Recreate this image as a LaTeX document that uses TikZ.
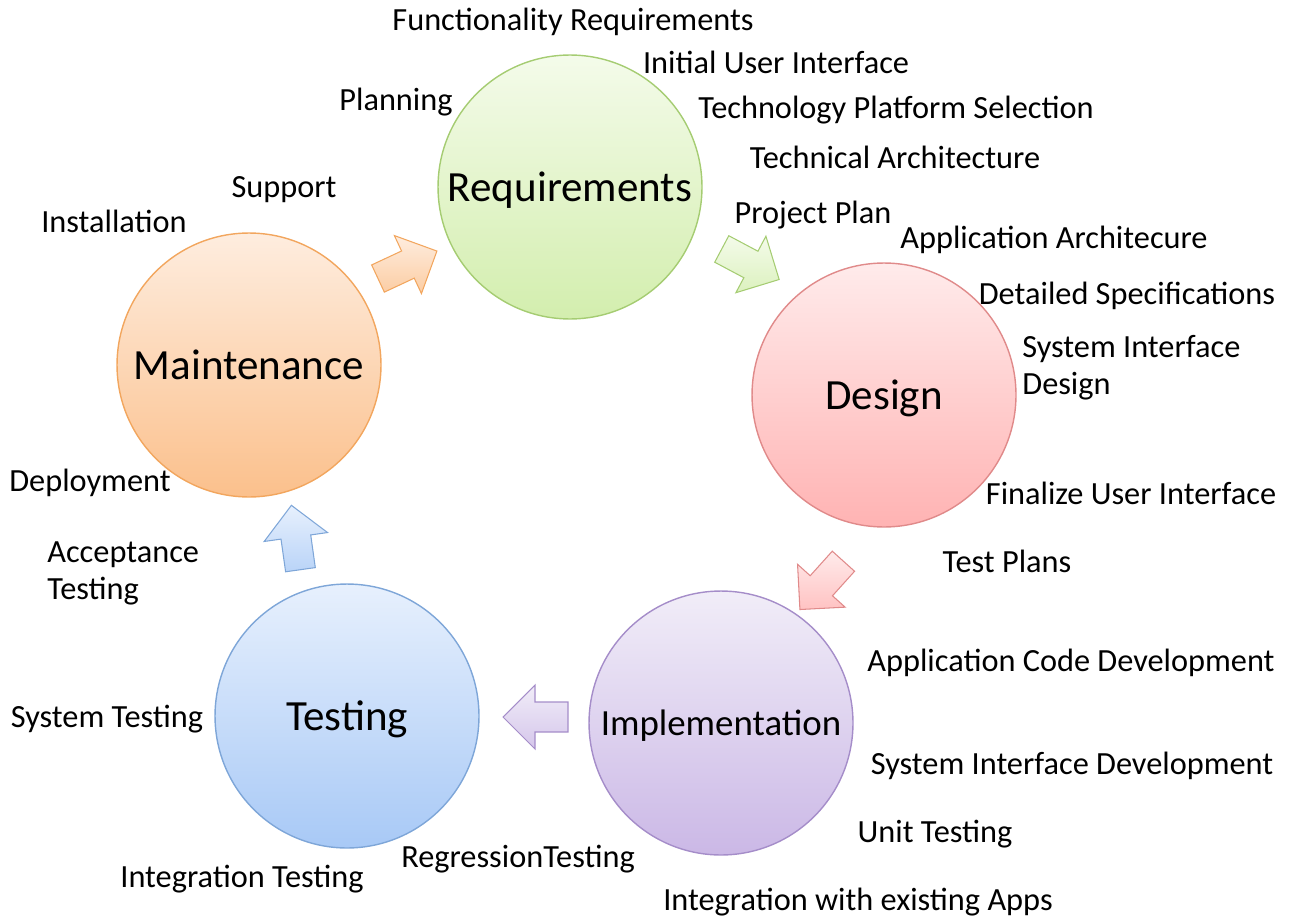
\documentclass[tikz,border=0pt]{standalone}
\usepackage{fontspec}
\setmainfont{Carlito}

\definecolor{reqtop}{HTML}{F4FBEA}
\definecolor{reqbot}{HTML}{D3EEAE}
\definecolor{reqline}{HTML}{A5CC72}
\definecolor{destop}{HTML}{FFEBEB}
\definecolor{desbot}{HTML}{FFB3B3}
\definecolor{desline}{HTML}{E08A8A}
\definecolor{maitop}{HTML}{FEEDDF}
\definecolor{maibot}{HTML}{FBC08C}
\definecolor{mailine}{HTML}{F2A65E}
\definecolor{testop}{HTML}{E7F0FD}
\definecolor{tesbot}{HTML}{A8C9F6}
\definecolor{tesline}{HTML}{7EA6D8}
\definecolor{imptop}{HTML}{F1EDF8}
\definecolor{impbot}{HTML}{CBB8E6}
\definecolor{impline}{HTML}{A58DC9}

\tikzset{
    stage/.style={circle, minimum size=5.28cm, inner sep=0pt, line width=0.8pt,
        font=\fontsize{24.5}{29}\selectfont, text height=19pt, text depth=2.4pt},
    note/.style={font=\fontsize{18.4}{22}\selectfont, inner sep=0pt,
        text height=14pt, text depth=1.6pt},
    notes/.style={font=\fontsize{18.4}{21}\selectfont, inner sep=0pt, align=left, anchor=west},
    stagearrow/.pic={
        \path[pic actions] (-32,-15) -- (1,-15) -- (1,-32) -- (33,0)
            -- (1,32) -- (1,15) -- (-32,15) -- cycle;
    }
}

\begin{document}
\begin{tikzpicture}[x=0.02cm, y=-0.02cm]
    \useasboundingbox (0,0) rectangle (1290,919);

    % the five stages
    \node[stage, draw=reqline, top color=reqtop, bottom color=reqbot] (req) at (570,187) {Requirements};
    \node[stage, draw=desline, top color=destop, bottom color=desbot] (des) at (884,395) {Design};
    \node[stage, draw=impline, top color=imptop, bottom color=impbot,
        font=\fontsize{21}{25}\selectfont, text height=16pt, text depth=1.6pt] (imp) at (721,723) {Implementation};
    \node[stage, draw=tesline, top color=testop, bottom color=tesbot] (tes) at (347,716) {Testing};
    \node[stage, draw=mailine, top color=maitop, bottom color=maibot] (mai) at (249,365) {Maintenance};

    % block arrows between stages
    \pic[rotate=25, draw=mailine, line width=0.6pt, top color=maitop, bottom color=maibot!80] at (407,265) {stagearrow};
    \pic[rotate=-28, draw=reqline, line width=0.6pt, top color=reqtop, bottom color=reqbot!80] at (750,264) {stagearrow};
    \pic[rotate=-132, draw=desline, line width=0.6pt, top color=destop, bottom color=desbot!80] at (822,585) {stagearrow};
    \pic[rotate=180, draw=impline, line width=0.6pt, top color=imptop, bottom color=impbot!80] at (536,717) {stagearrow};
    \pic[rotate=98, draw=tesline, line width=0.6pt, top color=testop, bottom color=tesbot!80] at (296,538) {stagearrow};

    % requirements
    \node[note] (funcreq) at (573,20) {Functionality Requirements};
    \node[note] (initui) at (776,63) {Initial User Interface};
    \node[note] (planning) at (396,100) {Planning};
    \node[note] (techplat) at (896,108) {Technology Platform Selection};
    \node[note] (techarch) at (895,158) {Technical Architecture};
    \node[note] (projplan) at (813,213) {Project Plan};

    % design
    \node[note] (apparch) at (1054,238) {Application Architecure};
    \node[note] (detspec) at (1127,294) {Detailed Specifications};
    \node[notes] (sysifdes) at (1022,368) {System Interface\\Design};
    \node[note] (finui) at (1131,494) {Finalize User Interface};
    \node[note] (testplans) at (1007,562) {Test Plans};

    % implementation
    \node[note] (appcode) at (1071,661) {Application Code Development};
    \node[note] (sysifdev) at (1072,764) {System Interface Development};
    \node[note] (unittest) at (935,832) {Unit Testing};
    \node[note] (intapps) at (858,900) {Integration with existing Apps};
    \node[note] (regtest) at (518,857) {RegressionTesting};

    % testing
    \node[note] (inttest) at (242,877) {Integration Testing};
    \node[note] (systest) at (107,717) {System Testing};
    \node[notes] (accept) at (47,573) {Acceptance\\Testing};

    % maintenance
    \node[note] (deploy) at (90,481) {Deployment};
    \node[note] (install) at (114,222) {Installation};
    \node[note] (support) at (284,187) {Support};
\end{tikzpicture}
\end{document}
